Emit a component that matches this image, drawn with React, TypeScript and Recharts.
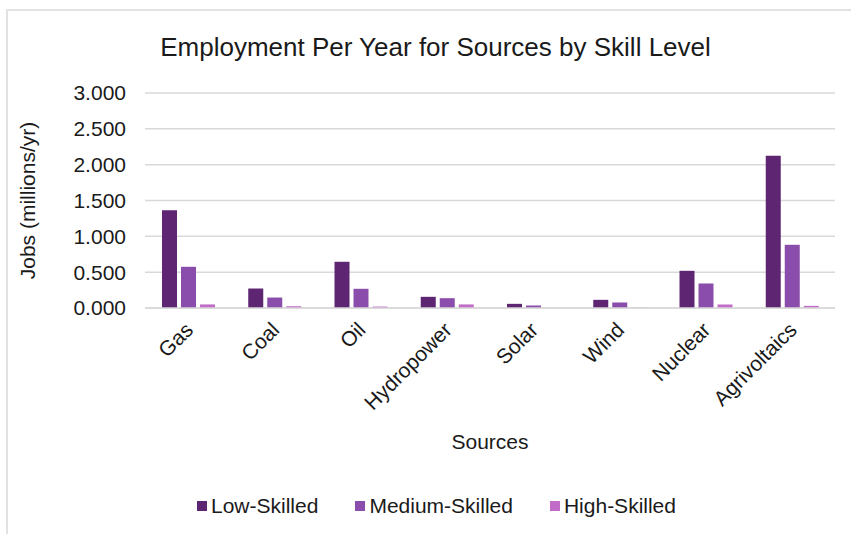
import React from 'react';
import { BarChart, Bar, XAxis, YAxis, CartesianGrid, Legend } from 'recharts';

const categories = ['Gas', 'Coal', 'Oil', 'Hydropower', 'Solar', 'Wind', 'Nuclear', 'Agrivoltaics'];
const lowSkilled = [1.365, 0.272, 0.645, 0.156, 0.058, 0.114, 0.519, 2.124];
const mediumSkilled = [0.575, 0.146, 0.268, 0.137, 0.035, 0.077, 0.342, 0.882];
const highSkilled = [0.05, 0.025, 0.02, 0.05, 0.0, 0.004, 0.049, 0.03];
const seriesKeys = ['low', 'medium', 'high'];
const seriesNames = ['Low-Skilled', 'Medium-Skilled', 'High-Skilled'];
const seriesColors = ['#5E2572', '#8A4DAB', '#C06CC8'];
const yTicks = [0, 0.5, 1, 1.5, 2, 2.5, 3];

const data = categories.map((c, i) => ({
  name: c,
  low: lowSkilled[i],
  medium: mediumSkilled[i],
  high: highSkilled[i],
}));

const FONT = '"Liberation Sans", Arial, sans-serif';
const TEXT = '#1a1a1a';
const FS = 21;

const XTick = (props: any) => {
  const { x, y, payload } = props;
  return (
    <g transform={`translate(${x + 1},${y + 10})`}>
      <text
        x={0}
        y={0}
        dy="0.35em"
        textAnchor="end"
        transform="rotate(-45)"
        fontSize={FS}
        fontFamily={FONT}
        fill={TEXT}
      >
        {payload.value}
      </text>
    </g>
  );
};

const YLabel = (props: any) => {
  const vb = props.viewBox || {};
  const cy = vb.y + vb.height / 2;
  return (
    <text
      x={27}
      y={cy}
      textAnchor="middle"
      dominantBaseline="central"
      transform={`rotate(-90, 27, ${cy})`}
      fontSize={FS}
      fontFamily={FONT}
      fill={TEXT}
    >
      Jobs (millions/yr)
    </text>
  );
};

const XLabel = (props: any) => {
  const vb = props.viewBox || {};
  const cx = vb.x + vb.width / 2;
  return (
    <text
      x={cx}
      y={441}
      textAnchor="middle"
      dominantBaseline="central"
      fontSize={FS}
      fontFamily={FONT}
      fill={TEXT}
    >
      Sources
    </text>
  );
};

const LegendContent = () => (
  <div style={{ display: 'flex', justifyContent: 'center', alignItems: 'center', height: 24, marginLeft: 38, fontFamily: FONT, fontSize: FS, color: TEXT }}>
    {seriesNames.map((n, i) => (
      <div key={n} style={{ display: 'flex', alignItems: 'center', marginRight: i < seriesNames.length - 1 ? 37 : 0 }}>
        <span style={{ display: 'inline-block', width: 10, height: 10, background: seriesColors[i], marginRight: 4 }} />
        <span>{n}</span>
      </div>
    ))}
  </div>
);

export default function App() {
  return (
    <div style={{ position: 'absolute', left: 0, top: 0, width: 851, height: 534, overflow: 'hidden', background: '#fff' }}>
      <div style={{ position: 'absolute', left: 6, top: 9, width: 900, height: 600, border: '2px solid #e2e2e2', boxSizing: 'border-box' }} />
      <div style={{ position: 'absolute', left: 0, top: 31, width: 871, textAlign: 'center', fontFamily: FONT, fontSize: 26, color: TEXT, lineHeight: '32px' }}>
        Employment Per Year for Sources by Skill Level
      </div>
      <div style={{ position: 'absolute', left: 0, top: 0 }}>
        <BarChart
          width={851}
          height={534}
          data={data}
          margin={{ top: 93, right: 16, bottom: 16, left: 0 }}
          barSize={15}
          barGap={4}
        >
          <CartesianGrid vertical={false} stroke="#d9d9d9" strokeWidth={1.5} />
          <XAxis
            dataKey="name"
            height={186}
            interval={0}
            tickLine={false}
            axisLine={{ stroke: '#d9d9d9', strokeWidth: 1.5 }}
            tick={<XTick />}
            label={<XLabel />}
          />
          <YAxis
            width={145}
            domain={[0, 3]}
            ticks={yTicks}
            tickFormatter={(v: number) => v.toFixed(3)}
            axisLine={false}
            tickLine={false}
            tickMargin={13}
            tick={{ fontSize: FS, fontFamily: FONT, fill: TEXT }}
            label={<YLabel />}
          />
          <Legend verticalAlign="bottom" height={24} content={<LegendContent />} />
          {seriesKeys.map((k, i) => (
            <Bar key={k} dataKey={k} name={seriesNames[i]} fill={seriesColors[i]} isAnimationActive={false} />
          ))}
        </BarChart>
      </div>
    </div>
  );
}
